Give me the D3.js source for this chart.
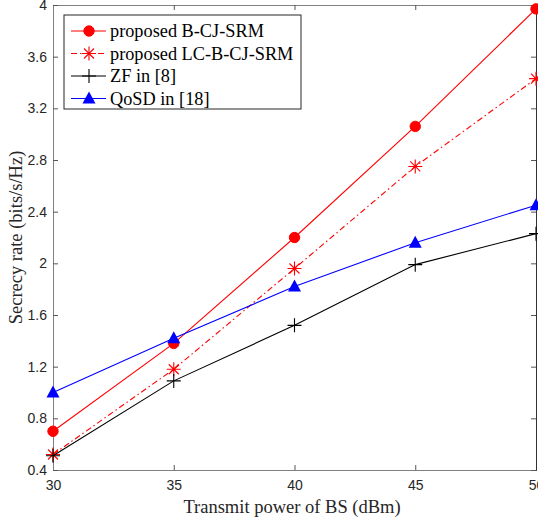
<!DOCTYPE html>
<html>
<head>
<meta charset="utf-8">
<script src="https://cdn.jsdelivr.net/npm/d3@7"></script>
<style>
  body { margin: 0; background: #fff; }
  svg { display: block; }
</style>
</head>
<body>
<div id="chart"></div>
<script>
var width = 538
var height = 520
var margin = { top: 5, right: 2, bottom: 50, left: 53 };

var power = [30, 35, 40, 45, 50];
var bcjSrm = [0.70, 1.38, 2.20, 3.06, 3.97];
var lcBcjSrm = [0.52, 1.18, 1.96, 2.75, 3.43];
var zf = [0.51, 1.09, 1.52, 1.99, 2.23];
var qosd = [1.00, 1.42, 1.82, 2.16, 2.45];
var xTicks = [30, 35, 40, 45, 50];
var yTicks = [0.4, 0.8, 1.2, 1.6, 2, 2.4, 2.8, 3.2, 3.6, 4];

var series = [
  { name: "proposed B-CJ-SRM", values: bcjSrm, color: "#ff0000", dash: null, marker: "circle" },
  { name: "proposed LC-B-CJ-SRM", values: lcBcjSrm, color: "#ff0000", dash: "6,3,1.5,3", marker: "asterisk" },
  { name: "ZF in [8]", values: zf, color: "#000000", dash: null, marker: "plus" },
  { name: "QoSD in [18]", values: qosd, color: "#0000ff", dash: null, marker: "triangle" }
];

var x = d3.scaleLinear().domain([30, 50]).range([margin.left, width - margin.right]);
var y = d3.scaleLinear().domain([0.4, 4]).range([height - margin.bottom, margin.top]);

var svg = d3.select("#chart").append("svg")
    .attr("width", width)
    .attr("height", height);

var tickFont = "'Liberation Sans', Arial, sans-serif";
var serif = "'Liberation Serif', 'Times New Roman', serif";

// axes (MATLAB box style, ticks inward)
var bottomAxis = svg.append("g")
    .attr("transform", "translate(0," + y.range()[0] + ")")
    .call(d3.axisBottom(x).tickValues(xTicks).tickSize(-5).tickPadding(10).tickFormat(d3.format("d")));
var topAxis = svg.append("g")
    .attr("transform", "translate(0," + y.range()[1] + ")")
    .call(d3.axisTop(x).tickValues(xTicks).tickSize(-5).tickFormat(""));
var leftAxis = svg.append("g")
    .attr("transform", "translate(" + x.range()[0] + ",0)")
    .call(d3.axisLeft(y).tickValues(yTicks).tickSize(-5).tickPadding(6).tickFormat(function(d) { return d3.format("")(+d.toFixed(1)); }));
var rightAxis = svg.append("g")
    .attr("transform", "translate(" + x.range()[1] + ",0)")
    .call(d3.axisRight(y).tickValues(yTicks).tickSize(-5).tickFormat(""));

[bottomAxis, topAxis, leftAxis, rightAxis].forEach(function(g) {
  g.select(".domain").attr("stroke", "#808080");
  g.selectAll(".tick line").attr("stroke", "#555");
  g.selectAll("text")
    .attr("fill", "#262626")
    .style("font-family", tickFont)
    .style("font-size", "14px");
});
rightAxis.select(".domain").attr("stroke", "#333");

function drawMarker(g, type, color) {
  if (type == "circle") {
    g.append("circle").attr("r", 5.2).attr("fill", color).attr("stroke", color);
  } else if (type == "triangle") {
    g.append("path").attr("d", "M0,-7L6.5,5L-6.5,5Z").attr("fill", color);
  } else if (type == "plus") {
    g.append("path").attr("d", "M-7,0H7M0,-7V7").attr("stroke", color).attr("stroke-width", 1.1);
  } else if (type == "asterisk") {
    g.append("path")
      .attr("d", "M-7,0H7M0,-7V7M-5,-5L5,5M-5,5L5,-5")
      .attr("stroke", color).attr("stroke-width", 1.1);
  }
}

var line = d3.line()
    .x(function(d, i) { return x(power[i]); })
    .y(function(d) { return y(d); });

series.forEach(function(s) {
  svg.append("path")
    .datum(s.values)
    .attr("fill", "none")
    .attr("stroke", s.color)
    .attr("stroke-width", 1.1)
    .attr("stroke-dasharray", s.dash)
    .attr("d", line);

  s.values.forEach(function(v, i) {
    var g = svg.append("g").attr("transform", "translate(" + x(power[i]) + "," + y(v) + ")");
    drawMarker(g, s.marker, s.color);
  });
});

// legend
var legend = svg.append("g");
legend.append("rect")
  .attr("x", 64).attr("y", 15)
  .attr("width", 237).attr("height", 94)
  .attr("fill", "#fff")
  .attr("stroke", "#262626")
  .attr("stroke-width", 1);

series.forEach(function(s, i) {
  var ly = 31 + i * 22.5;
  var row = legend.append("g");
  row.append("line")
    .attr("x1", 71).attr("x2", 106)
    .attr("y1", ly).attr("y2", ly)
    .attr("stroke", s.color)
    .attr("stroke-width", 1.1)
    .attr("stroke-dasharray", s.dash);
  drawMarker(row.append("g").attr("transform", "translate(89," + ly + ")"), s.marker, s.color);
  row.append("text")
    .attr("x", 110).attr("y", ly)
    .attr("dy", "0.35em")
    .style("font-family", serif)
    .style("font-size", "18.3px")
    .attr("fill", "#000")
    .text(s.name);
});

// axis labels
svg.append("text")
  .attr("x", 292)
  .attr("y", 513)
  .attr("text-anchor", "middle")
  .style("font-family", serif)
  .style("font-size", "18.5px")
  .attr("fill", "#262626")
  .text("Transmit power of BS (dBm)");

svg.append("text")
  .attr("transform", "translate(22," + (y.range()[0] + y.range()[1]) / 2 + ") rotate(-90)")
  .attr("text-anchor", "middle")
  .style("font-family", serif)
  .style("font-size", "18.5px")
  .attr("fill", "#262626")
  .text("Secrecy rate (bits/s/Hz)");
</script>
</body>
</html>
